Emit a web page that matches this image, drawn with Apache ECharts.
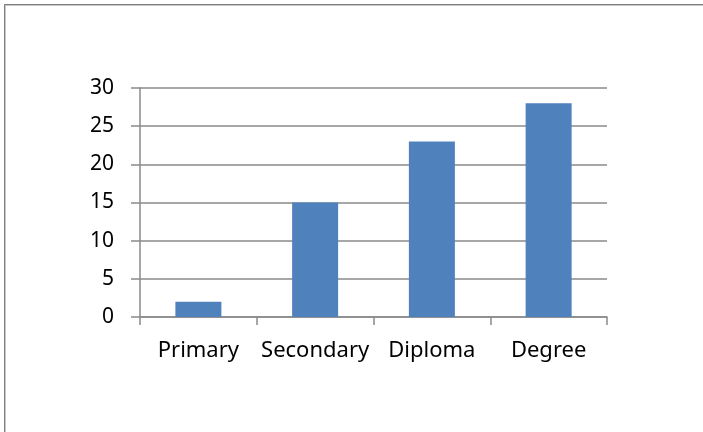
<!DOCTYPE html>
<html>
<head>
<meta charset="utf-8">
<script src="https://cdn.jsdelivr.net/npm/echarts@6/dist/echarts.min.js"></script>
<style>
html,body{margin:0;padding:0;background:#fff;}
#wrap{position:relative;width:703px;height:432px;overflow:hidden;background:#fff;}
#frame{position:absolute;left:4px;top:4px;width:800px;height:600px;border-top:1px solid #7f7f7f;border-left:1px solid #7f7f7f;box-shadow:inset 1px 1px 0 #c8c8c8;}
#chart{position:absolute;left:0;top:0;width:703px;height:432px;}
</style>
</head>
<body>
<div id="wrap"><div id="frame"></div><div id="chart"></div></div>
<script>
const categories = ["Primary", "Secondary", "Diploma", "Degree"];
const values = [2, 15, 23, 28];
const yTicks = { min: 0, max: 30, interval: 5 };

const chart = echarts.init(document.getElementById('chart'), null, { renderer: 'canvas' });
const axisColor = '#8a8a8a';
const lw = 1.5;
chart.setOption({
  animation: false,
  backgroundColor: 'transparent',
  grid: { left: 140, right: 96, top: 88, bottom: 115, containLabel: false },
  xAxis: {
    type: 'category',
    data: categories,
    boundaryGap: true,
    axisLine: { show: true, lineStyle: { color: axisColor, width: lw } },
    axisTick: { show: true, alignWithLabel: false, interval: 0, length: 8, lineStyle: { color: axisColor, width: lw } },
    axisLabel: { interval: 0, margin: 23, color: '#000', fontFamily: 'Noto Sans', fontSize: 22 },
    splitLine: { show: false }
  },
  yAxis: {
    type: 'value',
    min: yTicks.min, max: yTicks.max, interval: yTicks.interval,
    axisLine: { show: true, lineStyle: { color: axisColor, width: lw } },
    axisTick: { show: true, length: 9, lineStyle: { color: axisColor, width: lw } },
    axisLabel: { margin: 26, color: '#000', fontFamily: 'Noto Sans', fontSize: 21 },
    splitLine: { show: true, lineStyle: { color: axisColor, width: lw } }
  },
  series: [{
    type: 'bar',
    data: values,
    barWidth: 46,
    itemStyle: { color: '#4F81BD' }
  }]
});
</script>
</body>
</html>
